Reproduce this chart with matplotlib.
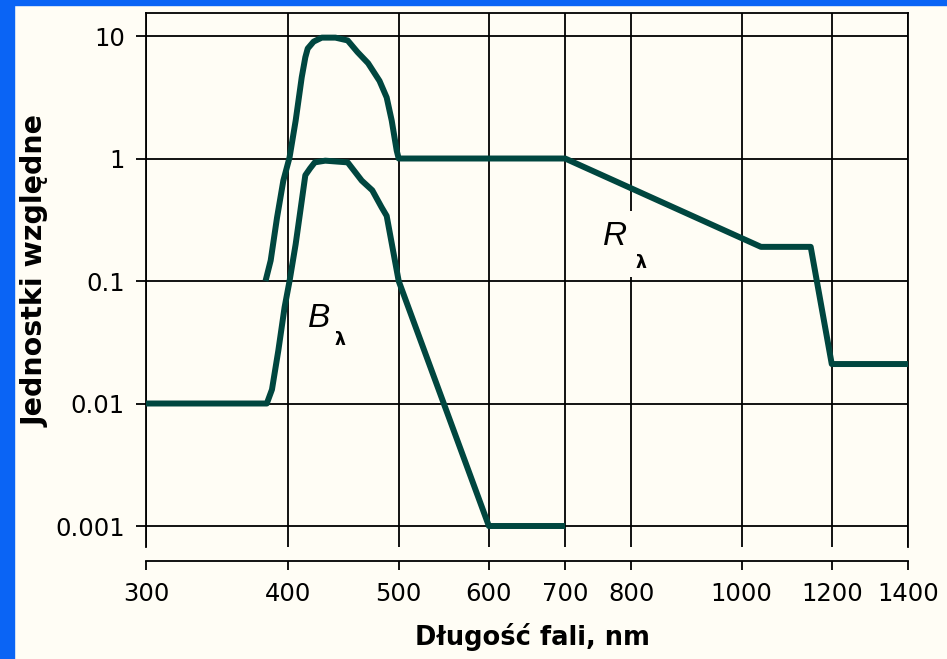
import matplotlib
matplotlib.use("Agg")
import matplotlib.pyplot as plt
from matplotlib.patches import Rectangle

# wavelength grid, nm
x_ticks = [300, 400, 500, 600, 700, 800, 1000, 1200, 1400]
x_labels = ["300", "400", "500", "600", "700", "800", "1000", "1200", "1400"]
y_ticks = [0.001, 0.01, 0.1, 1, 10]
y_labels = ["0.001", "0.01", "0.1", "1", "10"]

# B_lambda (lower curve)
wl_B = [300, 383, 387, 392, 397, 401, 406, 411, 414, 418, 422, 431, 451,
        464, 474, 483, 488, 500, 600, 700]
B = [0.01, 0.01, 0.013, 0.027, 0.061, 0.1, 0.2, 0.45, 0.73, 0.83, 0.93, 0.96,
     0.93, 0.66, 0.55, 0.4, 0.34, 0.1, 0.001, 0.001]

# R_lambda (upper curve)
wl_R = [382, 386, 391, 396, 401, 406, 411, 414, 416, 421, 428, 440, 451,
        460, 470, 481, 488, 493, 498, 500, 700, 1040, 1150, 1200, 1400]
R = [0.1, 0.147, 0.33, 0.66, 1.02, 2.04, 4.6, 6.7, 7.9, 9.0, 9.7, 9.7, 9.2,
     7.4, 6.0, 4.3, 3.15, 2.04, 1.16, 1.0, 1.0, 0.19, 0.19, 0.021, 0.021]

bg = "#fffdf5"
line_col = "#00463f"

fig = plt.figure(figsize=(9.47, 6.59), dpi=100, facecolor=bg)
ax = fig.add_axes([146 / 947, 1 - 547 / 659, 762 / 947, 534 / 659])
ax.set_facecolor(bg)

ax.plot(wl_B, B, color=line_col, lw=4.3, solid_joinstyle="round", solid_capstyle="butt", zorder=3)
ax.plot(wl_R, R, color=line_col, lw=4.3, solid_joinstyle="round", solid_capstyle="butt", zorder=3)

ax.set_xscale("log")
ax.set_yscale("log")
ax.set_xlim(300, 1400)
ax.set_ylim(10 ** -3.1714, 10 ** 1.1878)
ax.set_xticks(x_ticks)
ax.set_xticklabels(x_labels)
ax.set_yticks(y_ticks)
ax.set_yticklabels(y_labels)
ax.minorticks_off()

ax.grid(True, color="black", lw=1.3, zorder=1)
for s in ["top", "left", "right", "bottom"]:
    ax.spines[s].set_linewidth(1.3)
ax.spines["bottom"].set_position(("outward", 10))

ax.tick_params(axis="x", direction="out", length=6.5, width=1.3, pad=9, labelsize=17.5)
ax.tick_params(axis="y", direction="out", length=7.2, width=1.3, pad=8, labelsize=17.5)

ax.set_xlabel("Długość fali, nm", fontsize=18.5, fontweight="bold")
ax.xaxis.set_label_coords(0.507, -0.143)
ax.set_ylabel("Jednostki względne", fontsize=20.5, fontweight="bold")
ax.yaxis.set_label_coords(-0.126, 0.517)

# curve labels
box = dict(boxstyle="square,pad=0.3", fc=bg, ec="none")
ax.text(775, 0.23, "R", fontsize=24, style="italic", family="Liberation Sans",
        ha="center", va="center", bbox=box, zorder=4)
ax.text(816, 0.14, "λ", fontsize=12.5, fontweight="bold", ha="center", va="center",
        bbox=box, zorder=4)
ax.text(426, 0.0495, "B", fontsize=24, style="italic", family="Liberation Sans",
        ha="center", va="center", zorder=4)
ax.text(444, 0.0327, "λ", fontsize=12.5, fontweight="bold", ha="center", va="center", zorder=4)

# blue slide frame
fig.patches.append(Rectangle((0, 0), 14 / 947, 1, transform=fig.transFigure,
                             color="#0a64f5", zorder=10))
fig.patches.append(Rectangle((0, 1 - 5 / 659), 1, 5 / 659, transform=fig.transFigure,
                             color="#0a64f5", zorder=10))

fig.savefig("out.png", dpi=100, facecolor=bg)
